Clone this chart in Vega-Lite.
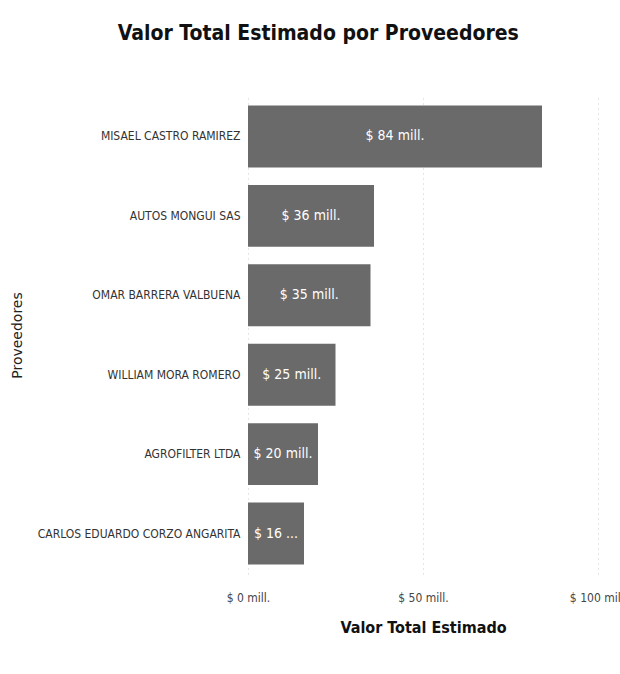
{
  "$schema": "https://vega.github.io/schema/vega-lite/v6.json",
  "width": 350,
  "height": 478,
  "autosize": {"type": "none"},
  "padding": {"left": 248, "top": 96, "right": 22, "bottom": 100},
  "background": "#ffffff",
  "title": {
    "text": "Valor Total Estimado por Proveedores",
    "font": "DejaVu Sans Condensed",
    "fontSize": 21,
    "fontWeight": "bold",
    "color": "#111111",
    "anchor": "middle",
    "frame": "bounds",
    "offset": 52
  },
  "data": {
    "values": [
      {"proveedor": "MISAEL CASTRO RAMIREZ", "valor": 84, "etiqueta": "$ 84 mill."},
      {"proveedor": "AUTOS MONGUI SAS", "valor": 36, "etiqueta": "$ 36 mill."},
      {"proveedor": "OMAR BARRERA VALBUENA", "valor": 35, "etiqueta": "$ 35 mill."},
      {"proveedor": "WILLIAM MORA ROMERO", "valor": 25, "etiqueta": "$ 25 mill."},
      {"proveedor": "AGROFILTER LTDA", "valor": 20, "etiqueta": "$ 20 mill."},
      {"proveedor": "CARLOS EDUARDO CORZO ANGARITA", "valor": 16, "etiqueta": "$ 16 ..."}
    ]
  },
  "transform": [{"calculate": "datum.valor / 2", "as": "medio"}],
  "encoding": {
    "y": {
      "field": "proveedor",
      "type": "nominal",
      "sort": null,
      "scale": {"paddingInner": 0.22, "paddingOuter": 0.12},
      "axis": {
        "title": "Proveedores",
        "titleFont": "DejaVu Sans",
        "titleFontSize": 14,
        "titleFontWeight": "normal",
        "titleColor": "#222222",
        "titlePadding": 0,
        "titleX": -224,
        "titleY": 239,
        "labelFont": "DejaVu Sans Condensed",
        "labelFontSize": 12,
        "labelColor": "#333333",
        "labelPadding": 8,
        "labelLimit": 260,
        "ticks": false,
        "domain": false
      }
    }
  },
  "layer": [
    {
      "mark": {"type": "bar", "color": "#6a6a6a"},
      "encoding": {
        "x": {
          "field": "valor",
          "type": "quantitative",
          "scale": {"domain": [0, 100]},
          "axis": {
            "title": "Valor Total Estimado",
            "titleFont": "DejaVu Sans Condensed",
            "titleFontSize": 16,
            "titleFontWeight": "bold",
            "titleColor": "#111111",
            "titlePadding": 16,
            "values": [0, 50, 100],
            "labelExpr": "'$ ' + datum.value + ' mill.'",
            "labelFont": "DejaVu Sans Condensed",
            "labelFontSize": 12,
            "labelColor": "#444444",
            "labelPadding": 18,
            "labelFlush": false,
            "ticks": false,
            "domain": false,
            "grid": true,
            "gridColor": "#cccccc",
            "gridDash": [1, 4]
          }
        }
      }
    },
    {
      "mark": {"type": "text", "color": "#ffffff", "font": "DejaVu Sans Condensed", "fontSize": 14, "align": "center"},
      "encoding": {
        "x": {"field": "medio", "type": "quantitative"},
        "text": {"field": "etiqueta"}
      }
    }
  ],
  "config": {"view": {"stroke": null}}
}
